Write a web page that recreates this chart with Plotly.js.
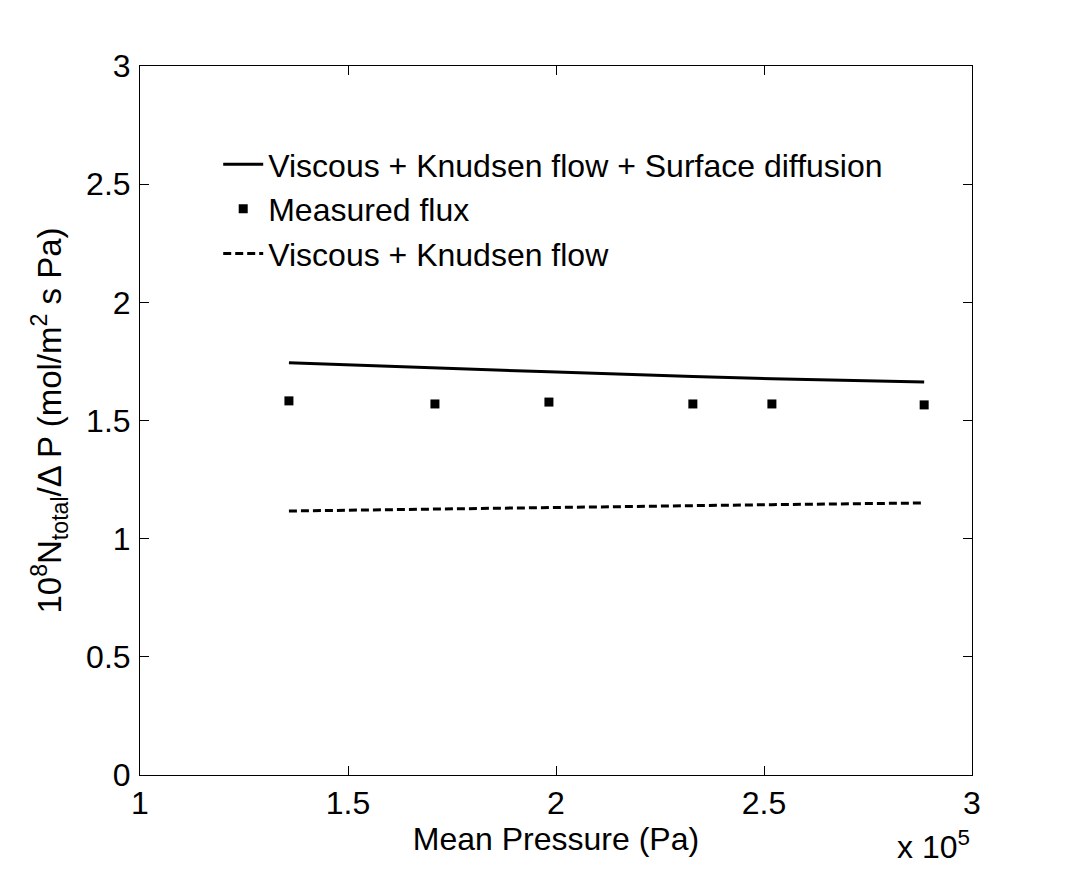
<!DOCTYPE html>
<html>
<head>
<meta charset="utf-8">
<script src="https://cdn.plot.ly/plotly-3.0.1.min.js"></script>
<style>
  html, body { margin: 0; padding: 0; background: #fff; }
  #chart { width: 1074px; height: 872px; }
</style>
</head>
<body>
<div id="chart"></div>
<script>
// mean pressure, in units of 1e5 Pa
const pressure = [1.358, 1.709, 1.983, 2.329, 2.519, 2.885];
// 1e8 N_total / dP
const measured = [1.583, 1.570, 1.578, 1.570, 1.570, 1.566];
const viscKnudSurf = [1.744, 1.721, 1.706, 1.686, 1.677, 1.663];
const viscKnud = [1.117, 1.126, 1.133, 1.140, 1.144, 1.151];

const font = { family: 'Liberation Sans, Arial, sans-serif', color: '#000' };

const data = [
  {
    type: 'scatter', mode: 'lines',
    name: 'Viscous + Knudsen flow + Surface diffusion',
    x: pressure, y: viscKnudSurf,
    line: { color: '#000', width: 3 }
  },
  {
    type: 'scatter', mode: 'markers',
    name: 'Measured flux',
    x: pressure, y: measured,
    marker: { color: '#000', symbol: 'square', size: 9 }
  },
  {
    type: 'scatter', mode: 'lines',
    name: 'Viscous + Knudsen flow',
    x: pressure, y: viscKnud,
    line: { color: '#000', width: 3, dash: '8px,4px' }
  }
];

const axisCommon = {
  showgrid: false,
  zeroline: false,
  showline: true,
  linecolor: '#000',
  linewidth: 1,
  mirror: 'allticks',
  ticks: 'inside',
  ticklen: 9,
  tickcolor: '#000',
  tickfont: { ...font, size: 32 }
};

const layout = {
  width: 1074,
  height: 872,
  margin: { l: 140, r: 102, t: 66, b: 97 },
  paper_bgcolor: '#fff',
  plot_bgcolor: '#fff',
  font: font,
  showlegend: true,
  legend: {
    x: 0.094, y: 0.9, xanchor: 'left', yanchor: 'top',
    bgcolor: 'rgba(0,0,0,0)',
    font: { ...font, size: 32 },
    tracegroupgap: 0,
    itemwidth: 40
  },
  xaxis: {
    ...axisCommon,
    range: [1, 3],
    tickvals: [1, 1.5, 2, 2.5, 3],
    ticktext: ['1', '1.5', '2', '2.5', '3'],
    ticklabelstandoff: 0,
    title: { text: 'Mean Pressure (Pa)', font: { ...font, size: 32 }, standoff: 0 }
  },
  yaxis: {
    ...axisCommon,
    range: [0, 3],
    tickvals: [0, 0.5, 1, 1.5, 2, 2.5, 3],
    ticktext: ['0', '0.5', '1', '1.5', '2', '2.5', '3'],
    ticklabelstandoff: 2,
    title: {
      text: '10<sup>8</sup>N<sub>total</sub>/\u0394 P (mol/m<sup>2</sup> s Pa)',
      font: { ...font, size: 33 },
      standoff: 14
    }
  },
  annotations: [
    {
      xref: 'paper', yref: 'paper',
      x: 1.0, y: -0.068, xanchor: 'right', yanchor: 'top',
      text: 'x 10<sup>5</sup>', showarrow: false,
      font: { ...font, size: 32 }
    }
  ]
};

Plotly.newPlot('chart', data, layout, { displayModeBar: false, staticPlot: true });
</script>
</body>
</html>
